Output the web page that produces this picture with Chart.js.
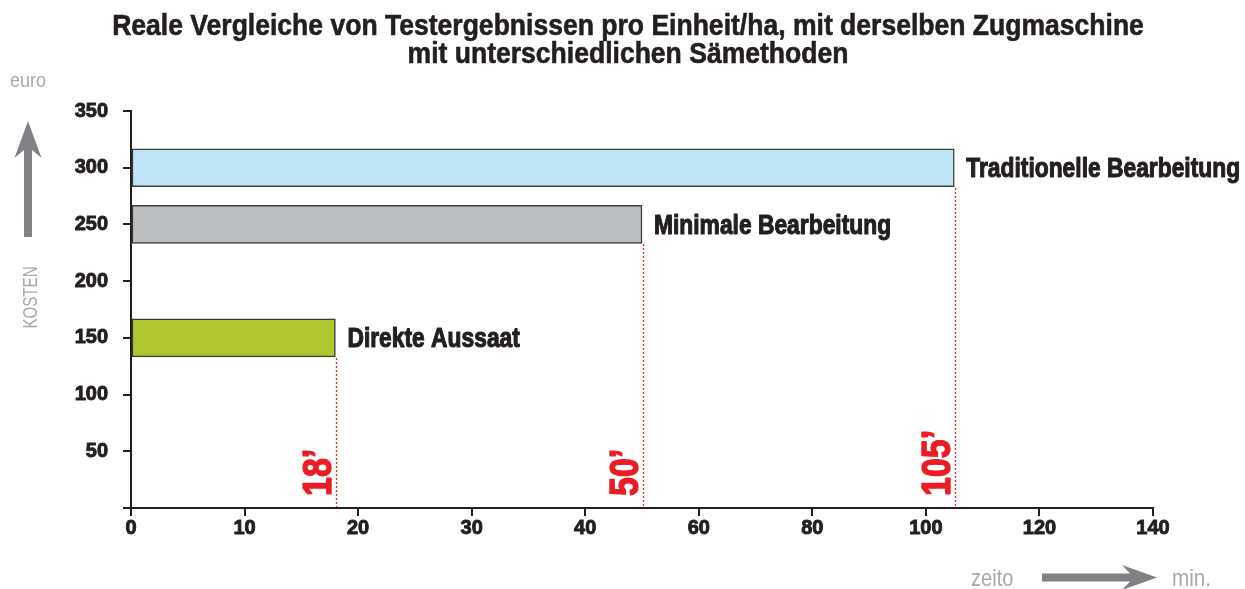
<!DOCTYPE html>
<html>
<head>
<meta charset="utf-8">
<script src="https://cdn.jsdelivr.net/npm/chart.js@4.4.1/dist/chart.umd.min.js"></script>
<style>
  html, body { margin: 0; padding: 0; background: #ffffff; }
  #c { display: block; }
</style>
</head>
<body>
<canvas id="c" width="1245" height="589"></canvas>
<script>
// ---- data ----
const titleLines = ['Reale Vergleiche von Testergebnissen pro Einheit/ha, mit derselben Zugmaschine', 'mit unterschiedlichen Sämethoden'];
const methods = ['Traditionelle Bearbeitung', 'Minimale Bearbeitung', 'Direkte Aussaat'];
const costs = [300, 250, 150];          // euro
const minutes = [105, 50, 18];          // min.
const minuteLabels = ['105’', '50’', '18’'];
const xTickLabels = [0, 10, 20, 30, 40, 60, 80, 100, 120, 140];
const yTickValues = [0, 50, 100, 150, 200, 250, 300, 350];
const barColors = ['#BEE5F3', '#BCBEC0', '#AFC62F'];

// ---- helpers ----
const FAM = '"Liberation Sans", Arial, sans-serif';
const DARK = '#231F20';
const GRAY_TXT = '#A7A9AC';
const GRAY_ARROW = '#808285';
const RED = '#ED1C24';

// x axis labels are evenly spaced although their values are not: map value -> tick slot
function toPos(v) {
  for (let i = 0; i < xTickLabels.length - 1; i++) {
    const a = xTickLabels[i], b = xTickLabels[i + 1];
    if (v >= a && v <= b) return i + (v - a) / (b - a);
  }
  return xTickLabels.length - 1;
}

// draw text horizontally condensed (like a narrow face), optionally emboldened
function narrowText(ctx, text, x, y, opts) {
  ctx.save();
  ctx.translate(x, y);
  if (opts.rotate) ctx.rotate(opts.rotate);
  ctx.scale(opts.sx, 1);
  ctx.font = opts.font;
  ctx.fillStyle = opts.color;
  ctx.textAlign = opts.align || 'left';
  ctx.textBaseline = opts.baseline || 'alphabetic';
  ctx.fillText(text, 0, 0);
  if (opts.stroke) {
    ctx.strokeStyle = opts.color;
    ctx.lineWidth = opts.stroke;
    ctx.lineJoin = 'round';
    ctx.strokeText(text, 0, 0);
  }
  ctx.restore();
}

const annotations = {
  id: 'annotations',
  afterDatasetsDraw(chart) {
    const ctx = chart.ctx;
    const xs = chart.scales.x, ys = chart.scales.y;
    const axisY = ys.getPixelForValue(0);
    const half = 19;
    methods.forEach((m, i) => {
      const endX = xs.getPixelForValue(toPos(minutes[i]));
      const yc = ys.getPixelForValue(costs[i]);
      // dotted red drop line
      const lx = Math.round(endX + 1) + 0.5;
      ctx.save();
      ctx.strokeStyle = '#F0242C';
      ctx.lineWidth = 1.3;
      ctx.setLineDash([2, 2]);
      ctx.beginPath();
      ctx.moveTo(lx, Math.round(yc + half) + 1);
      ctx.lineTo(lx, axisY - 1);
      ctx.stroke();
      ctx.restore();
      // method label
      narrowText(ctx, m, endX + 12, yc + 9.6, { sx: 0.845, font: 'bold 27px ' + FAM, color: DARK, stroke: 1.1 });
      // red minute label, rotated
      narrowText(ctx, minuteLabels[i], endX - 4, 496, { sx: 0.85, rotate: -Math.PI / 2, font: 'bold 40px ' + FAM, color: RED, stroke: 1.4 });
    });
  },
  afterDraw(chart) {
    const ctx = chart.ctx;
    // title
    narrowText(ctx, titleLines[0], 628, 35, { sx: 0.915, font: 'bold 29px ' + FAM, color: DARK, align: 'center', stroke: 0.6 });
    narrowText(ctx, titleLines[1], 628, 63, { sx: 0.915, font: 'bold 29px ' + FAM, color: DARK, align: 'center', stroke: 0.6 });
    // euro
    narrowText(ctx, 'euro', 10, 87, { sx: 0.86, font: '21px ' + FAM, color: GRAY_TXT });
    // up arrow
    ctx.save();
    ctx.fillStyle = GRAY_ARROW;
    ctx.beginPath();
    ctx.moveTo(28, 121);
    ctx.lineTo(41.5, 158);
    ctx.lineTo(32, 150);
    ctx.lineTo(32, 237);
    ctx.lineTo(24, 237);
    ctx.lineTo(24, 150);
    ctx.lineTo(14.5, 158);
    ctx.closePath();
    ctx.fill();
    ctx.restore();
    // KOSTEN
    narrowText(ctx, 'KOSTEN', 37, 297.5, { sx: 0.72, rotate: -Math.PI / 2, font: '21px ' + FAM, color: GRAY_TXT, align: 'center' });
    // zeito  ->  min.
    narrowText(ctx, 'zeito', 971, 586, { sx: 0.84, font: '24px ' + FAM, color: GRAY_TXT });
    narrowText(ctx, 'min.', 1172, 586, { sx: 0.86, font: '24px ' + FAM, color: GRAY_TXT });
    ctx.save();
    ctx.fillStyle = GRAY_ARROW;
    ctx.beginPath();
    ctx.moveTo(1042, 573.5);
    ctx.lineTo(1130, 573.5);
    ctx.lineTo(1122, 565);
    ctx.lineTo(1157, 577.5);
    ctx.lineTo(1122, 590);
    ctx.lineTo(1130, 581.5);
    ctx.lineTo(1042, 581.5);
    ctx.closePath();
    ctx.fill();
    ctx.restore();
  }
};

new Chart(document.getElementById('c'), {
  type: 'bar',
  data: {
    datasets: [{
      data: methods.map((m, i) => ({ x: toPos(minutes[i]), y: costs[i] })),
      backgroundColor: barColors,
      borderColor: '#3C3C3C',
      borderWidth: 1.5,
      borderSkipped: false,
      barThickness: 38
    }]
  },
  options: {
    indexAxis: 'y',
    responsive: false,
    devicePixelRatio: 1,
    animation: false,
    layout: { padding: { left: 0, right: 92, top: 111, bottom: 0 } },
    plugins: {
      legend: { display: false },
      tooltip: { enabled: false },
      title: { display: false }
    },
    scales: {
      x: {
        type: 'linear',
        min: 0,
        max: xTickLabels.length - 1,
        offset: false,
        afterBuildTicks: (s) => { s.ticks = xTickLabels.map((_, i) => ({ value: i })); },
        ticks: {
          callback: (v) => String(xTickLabels[v]),
          color: DARK,
          font: { family: FAM, size: 20, weight: 'bold' },
          textStrokeColor: DARK,
          textStrokeWidth: 0.9,
          padding: 0,
          maxRotation: 0,
          autoSkip: false
        },
        grid: { offset: false, drawOnChartArea: false, drawTicks: true, tickLength: 8, color: DARK, lineWidth: 2 },
        border: { display: true, color: DARK, width: 2 },
        afterFit: (s) => { s.height = 81; }
      },
      y: {
        type: 'linear',
        min: 0,
        max: 350,
        offset: false,
        afterBuildTicks: (s) => { s.ticks = yTickValues.map(v => ({ value: v })); },
        ticks: {
          callback: (v) => (v === 0 ? '' : String(v)),
          color: DARK,
          font: { family: FAM, size: 20, weight: 'bold' },
          textStrokeColor: DARK,
          textStrokeWidth: 0.9,
          padding: 15
        },
        grid: { offset: false, drawOnChartArea: false, drawTicks: true, tickLength: 8, color: DARK, lineWidth: 2 },
        border: { display: true, color: DARK, width: 2 },
        afterFit: (s) => { s.width = 131; }
      }
    }
  },
  plugins: [annotations]
});
</script>
</body>
</html>
